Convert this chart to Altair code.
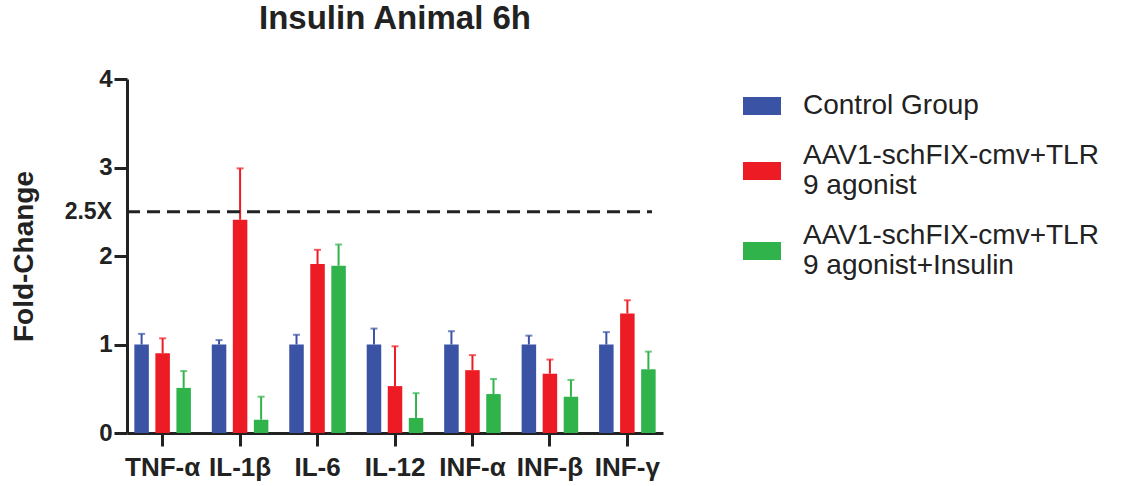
import altair as alt
import pandas as pd

categories = ["TNF-α", "IL-1β", "IL-6", "IL-12", "INF-α", "INF-β", "INF-γ"]
groups = [
    "Control Group",
    "AAV1-schFIX-cmv+TLR\n9 agonist",
    "AAV1-schFIX-cmv+TLR\n9 agonist+Insulin",
]
colors = ["#3A53A4", "#ED1C24", "#31B34B"]

control_mean = [1.0, 1.0, 1.0, 1.0, 1.0, 1.0, 1.0]
control_err = [0.12, 0.05, 0.11, 0.18, 0.15, 0.10, 0.14]
tlr_mean = [0.90, 2.41, 1.91, 0.53, 0.71, 0.67, 1.35]
tlr_err = [0.17, 0.58, 0.16, 0.45, 0.17, 0.16, 0.15]
ins_mean = [0.51, 0.15, 1.89, 0.17, 0.44, 0.41, 0.72]
ins_err = [0.19, 0.26, 0.24, 0.28, 0.17, 0.19, 0.20]

threshold = [2.5]
threshold_label = ["2.5X"]

rows = []
for g, means, errs in zip(groups, [control_mean, tlr_mean, ins_mean], [control_err, tlr_err, ins_err]):
    for c, m, e in zip(categories, means, errs):
        rows.append({"cat": c, "group": g, "mean": m, "upper": m + e})
df = pd.DataFrame(rows)
ref = pd.DataFrame({"y": threshold, "label": threshold_label})

FONT = "Liberation Sans, Arial, sans-serif"
INK = "#222222"

# legend swatches (wide rectangles); two-line entries get a swatch centred on both lines
SW_ONE = "M-1,-0.47L1,-0.47L1,0.47L-1,0.47Z"
SW_TWO = "M-1,0.32L1,0.32L1,1.26L-1,1.26Z"

x = alt.X("cat:N", sort=categories, title=None,
          scale=alt.Scale(paddingInner=0.18, paddingOuter=0.05),
          axis=alt.Axis(labelAngle=0, labelFontSize=26, labelFontWeight="bold",
                        labelColor=INK, labelFont=FONT, labelPadding=8,
                        tickSize=13, tickWidth=3, tickColor=INK,
                        domainWidth=3, domainColor=INK))
xo = alt.XOffset("group:N", sort=groups,
                 scale=alt.Scale(paddingInner=0.31, paddingOuter=0.165))
legend = alt.Legend(title=None, orient="none", legendX=616, legendY=8,
                    symbolSize=1444, symbolStrokeWidth=0, symbolOpacity=1,
                    labelFontSize=28, labelFont=FONT, labelColor=INK,
                    labelLimit=500, labelOffset=22, rowPadding=17,
                    labelExpr="split(datum.label, '\\n')")
color = alt.Color("group:N", sort=groups,
                  scale=alt.Scale(domain=groups, range=colors), legend=legend)
shape = alt.Shape("group:N", sort=groups,
                  scale=alt.Scale(domain=groups, range=[SW_ONE, SW_TWO, SW_TWO]), legend=legend)
y = alt.Y("mean:Q", title="Fold-Change",
          scale=alt.Scale(domain=[0, 4], nice=False),
          axis=alt.Axis(values=[0, 1, 2, 3, 4], format="d", grid=False, labelFontSize=24,
                        labelFontWeight="bold", labelColor=INK, labelFont=FONT,
                        labelPadding=2, tickSize=13, tickWidth=3, tickColor=INK,
                        domainWidth=3, domainColor=INK,
                        titleFontSize=28, titleFont=FONT, titleFontWeight="bold",
                        titleColor=INK, titleX=-95, titleBaseline="alphabetic"))

base = alt.Chart(df)
bars = base.mark_bar().encode(x=x, xOffset=xo, y=y, color=color)
keys = base.mark_point(filled=True, opacity=1).encode(
    x=alt.X("cat:N", sort=categories), xOffset=xo, y="mean:Q",
    color=color, shape=shape).transform_filter("false")
err_color = alt.Color("group:N", sort=groups, legend=None,
                      scale=alt.Scale(domain=groups, range=colors))
whisk = base.mark_rule(strokeWidth=2).encode(
    x=alt.X("cat:N", sort=categories), xOffset=xo,
    y="mean:Q", y2="upper:Q", color=err_color)
caps = base.mark_tick(thickness=2, size=7).encode(
    x=alt.X("cat:N", sort=categories), xOffset=xo,
    y="upper:Q", color=err_color)

refline = alt.Chart(ref).mark_rule(strokeDash=[13, 7], strokeWidth=3, color=INK).encode(
    y="y:Q", x=alt.value(0), x2=alt.value(525))
reftext = alt.Chart(ref).mark_text(align="right", baseline="middle",
                                   fontSize=23, fontWeight="bold", font=FONT, color=INK).encode(
    y="y:Q", x=alt.value(-15), text="label:N")

chart = alt.layer(bars, keys, whisk, caps, refline, reftext).properties(
    width=536, height=354,
    title=alt.TitleParams("Insulin Animal 6h", fontSize=33, font=FONT, fontWeight="bold",
                          color=INK, anchor="middle", frame="group", offset=28, dy=-3),
    autosize=alt.AutoSizeParams(type="none"),
    padding={"left": 127, "top": 79, "right": 460, "bottom": 53},
).configure_view(stroke=None).configure_axis(grid=False)

chart.save("out.html", embed_options={"renderer": "svg", "actions": False})
